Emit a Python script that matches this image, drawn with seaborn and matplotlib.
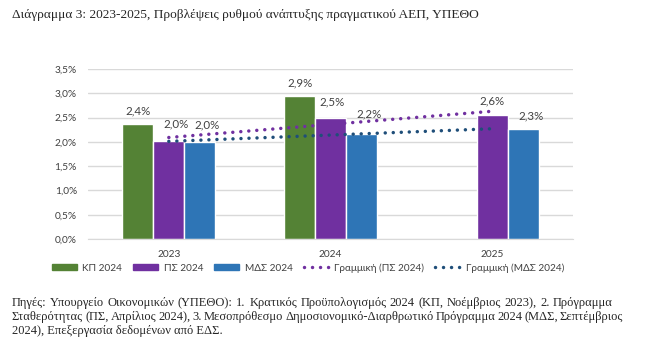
import numpy as np
import pandas as pd
import seaborn as sns
import matplotlib.pyplot as plt
from matplotlib.patches import Patch
from matplotlib.lines import Line2D

years = ['2023', '2024', '2025']
series_names = ['ΚΠ 2024', 'ΠΣ 2024', 'ΜΔΣ 2024']
kp_2024 = [2.37, 2.94, np.nan]
ps_2024 = [2.02, 2.50, 2.56]
mds_2024 = [2.00, 2.16, 2.26]
y_ticks = [0, 0.5, 1.0, 1.5, 2.0, 2.5, 3.0, 3.5]

colors = ['#548235', '#7030A0', '#2E75B6']
trend_colors = ['#7030A0', '#1F4E79']
# label nudges (pixels) per series and year, Excel moved some labels off the trendlines
label_dx = [[0, 0, 0], [7, 2, 0], [7, 8, 8]]
label_dy = [[7, 8, 0], [11, 10, 8], [11, 15, 8]]

df = pd.DataFrame({
    'Year': years * 3,
    'Series': [s for s in series_names for _ in years],
    'Value': kp_2024 + ps_2024 + mds_2024,
})

sns.set_style('white')
plt.rcParams['font.family'] = ['Lato', 'DejaVu Sans']

fig = plt.figure(figsize=(6.54, 3.51), dpi=100)
ax = fig.add_axes([88 / 654, 1 - 239 / 351, 485 / 654, 170 / 351])

sns.barplot(data=df, x='Year', y='Value', hue='Series', hue_order=series_names,
            palette=colors, width=0.574, gap=0, saturation=1, legend=False, ax=ax)

# Linear trendlines (Excel "Γραμμική") for ΠΣ and ΜΔΣ
dots = (0, (0.01, 2.3))
for vals, col in zip([ps_2024, mds_2024], trend_colors):
    sns.regplot(x=np.arange(len(years)), y=np.array(vals), ci=None, scatter=False,
                truncate=True, ax=ax,
                line_kws=dict(color=col, lw=2.5, ls=dots,
                              dash_capstyle='round', zorder=5))

# Data labels
for i, cont in enumerate(ax.containers):
    for j, (bar, v) in enumerate(zip(cont, cont.datavalues)):
        if np.isnan(v):
            continue
        ax.annotate(f'{v:.1f}%'.replace('.', ','),
                    (bar.get_x() + bar.get_width() / 2, v),
                    xytext=(label_dx[i][j], label_dy[i][j]), textcoords='offset pixels',
                    ha='center', va='bottom', fontsize=8.3, color='#404040', zorder=6)

ax.set_xlim(-0.5, 2.5)
ax.set_ylim(0, 3.5)
ax.set_yticks(y_ticks)
ax.set_yticklabels([f'{t:.1f}%'.replace('.', ',') for t in y_ticks])
ax.yaxis.grid(True, color='#D9D9D9', lw=1)
ax.set_axisbelow(True)
ax.set_xlabel('')
ax.set_ylabel('')
ax.tick_params(axis='y', length=0, labelsize=7.3, colors='#404040', pad=8)
ax.tick_params(axis='x', length=0, labelsize=7.3, colors='#404040', pad=8)
for side in ['top', 'right', 'left']:
    ax.spines[side].set_visible(False)
ax.spines['bottom'].set_color('#D9D9D9')

handles = [Patch(color=c) for c in colors] + [
    Line2D([0], [0], color=c, lw=2.5, ls=dots, dash_capstyle='round')
    for c in trend_colors]
labels = series_names + ['Γραμμική (ΠΣ 2024)', 'Γραμμική (ΜΔΣ 2024)']
fig.legend(handles, labels, loc='center', bbox_to_anchor=(308 / 654, 1 - 268 / 351),
           ncol=5, frameon=False, fontsize=7.2, handlelength=2.5, handleheight=0.6,
           columnspacing=1.1, handletextpad=0.55, labelcolor='#404040')

serif = ['Liberation Serif', 'DejaVu Serif']
fig.text(12 / 654, 1 - 15 / 351,
         'Διάγραμμα 3: 2023-2025, Προβλέψεις ρυθμού ανάπτυξης πραγματικού ΑΕΠ, ΥΠΕΘΟ',
         family=serif, fontsize=9.6, va='center', ha='left')

# Source note, justified like the original document
footnote_lines = [
    'Πηγές: Υπουργείο Οικονομικών (ΥΠΕΘΟ): 1. Κρατικός Προϋπολογισμός 2024 (ΚΠ, Νοέμβριος 2023), 2. Πρόγραμμα',
    'Σταθερότητας (ΠΣ, Απρίλιος 2024), 3. Μεσοπρόθεσμο Δημοσιονομικό-Διαρθρωτικό Πρόγραμμα 2024 (ΜΔΣ, Σεπτέμβριος',
    '2024), Επεξεργασία δεδομένων από ΕΔΣ.',
]
renderer = fig.canvas.get_renderer()
left_px, right_px = 12, 613
for k, line in enumerate(footnote_lines):
    y = 1 - (303 + 14 * k) / 351
    if k == len(footnote_lines) - 1:
        fig.text(left_px / 654, y, line, family=serif, fontsize=9.0, va='center', ha='left')
        continue
    words = line.split(' ')
    texts = [fig.text(0, y, w, family=serif, fontsize=9.0, va='center', ha='left') for w in words]
    widths = [t.get_window_extent(renderer).width for t in texts]
    gap = max((right_px - left_px - sum(widths)) / (len(words) - 1), 2.0)
    x = left_px
    for t, w in zip(texts, widths):
        t.set_x(x / 654)
        x += w + gap

fig.savefig('out.png', dpi=100)
plt.close()
